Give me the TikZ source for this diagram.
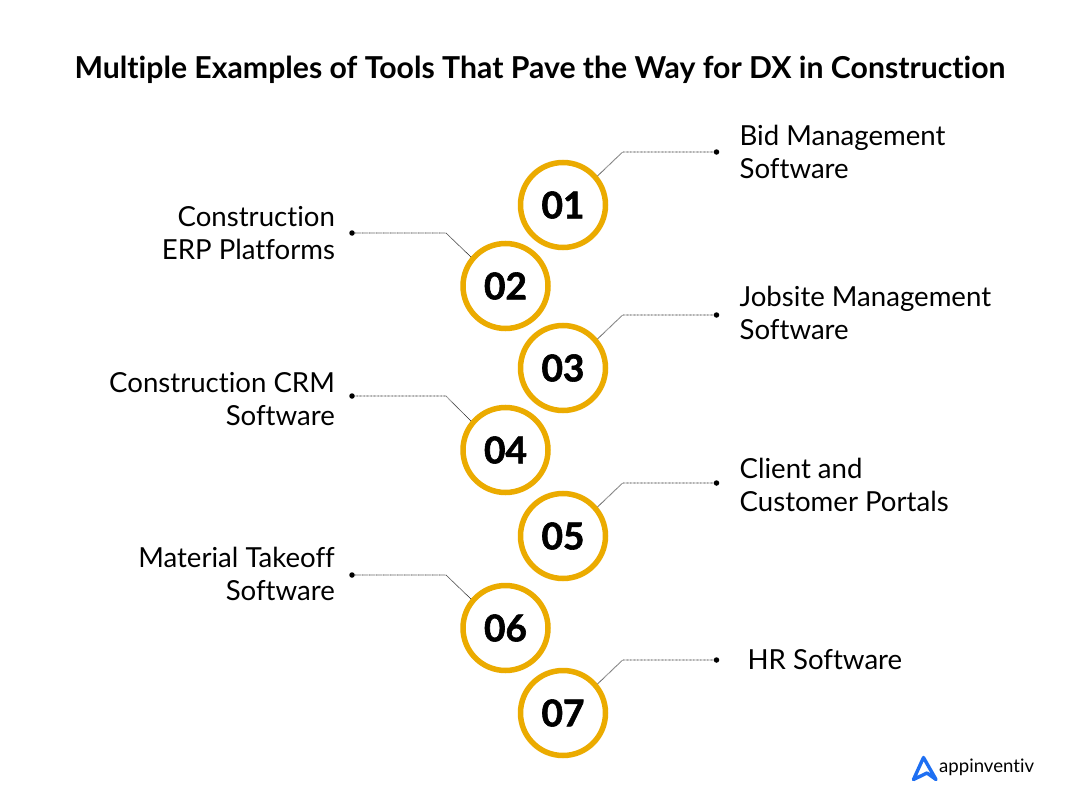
\documentclass[tikz,border=0pt]{standalone}
\usepackage{fontspec}
\setmainfont[Ligatures=CommonOff]{Lato}
\newfontfamily\numfont[FakeBold=1.6]{Lato Bold}
\usetikzlibrary{positioning}
\definecolor{ringgold}{HTML}{EBAB00}
\definecolor{logoblue}{HTML}{1E6FF2}
\tikzset{
  numring/.style={circle,draw=ringgold,line width=5.5pt,fill=white,minimum size=85pt,inner sep=0pt,font=\fontsize{37}{37}\numfont},
  tipdot/.style={circle,fill=black,minimum size=5.5pt,inner sep=0pt},
  leader/.style={black!85,line width=.7pt,dash pattern=on .8pt off .6pt},
  rtext/.style={align=left,inner sep=0pt,on grid=false,font=\fontsize{27.6}{33}\selectfont},
  ltext/.style={align=right,inner sep=0pt,on grid=false,font=\fontsize{27.6}{33}\selectfont},
}
\begin{document}
\begin{tikzpicture}[x=1pt,y=-1pt,on grid]
  \useasboundingbox[fill=white] (0,0) rectangle (1080,800);

  \node[font=\fontsize{30.2}{30}\selectfont\bfseries] (title) at (540,70) {Multiple Examples of Tools That Pave the Way for DX in Construction};

  % rings, top to bottom
  \node[numring] (c_1) at (563,205)                     {01};
  \node[numring] (c_2) [below left  = 81pt and 57.5pt of c_1] {02};
  \node[numring] (c_3) [below right = 82pt and 57.5pt of c_2] {03};
  \node[numring] (c_4) [below left  = 82pt and 57.5pt of c_3] {04};
  \node[numring] (c_5) [below right = 86pt and 57.5pt of c_4] {05};
  \node[numring] (c_6) [below left  = 92pt and 57.5pt of c_5] {06};
  \node[numring] (c_7) [below right = 85pt and 57.5pt of c_6] {07};

  % dots on the right
  \node[tipdot] (d_1) [above right = 53pt and 153.5pt of c_1] {};
  \node[tipdot] (d_3) [above right = 53pt and 153.5pt of c_3] {};
  \node[tipdot] (d_5) [above right = 53pt and 153.5pt of c_5] {};
  \node[tipdot] (d_7) [above right = 53pt and 153.5pt of c_7] {};
  % dots on the left
  \node[tipdot] (d_2) [above left = 53pt and 153.5pt of c_2] {};
  \node[tipdot] (d_4) [above left = 54pt and 153.5pt of c_4] {};
  \node[tipdot] (d_6) [above left = 53pt and 153.5pt of c_6] {};

  \foreach \i in {1,3,5,7} {
    \node[coordinate] (b_\i) [left = 94pt of d_\i] {};
    \draw[leader] (c_\i.40) -- (b_\i) -- (d_\i);
  }
  \foreach \i in {2,4,6} {
    \node[coordinate] (b_\i) [right = 94pt of d_\i] {};
    \draw[leader] (c_\i.140) -- (b_\i) -- (d_\i);
  }

  \node[rtext] (t_1) [right = 20pt of d_1] {Bid Management\\Software};
  \node[ltext] (t_2) [left  = 14pt of d_2] {Construction\\ERP Platforms};
  \node[rtext,yshift=2pt] (t_3) [right = 20pt of d_3] {Jobsite Management\\Software};
  \node[ltext,yshift=-3pt] (t_4) [left  = 14pt of d_4] {Construction CRM\\Software};
  \node[rtext,yshift=-2pt] (t_5) [right = 20pt of d_5] {Client and\\Customer Portals};
  \node[ltext,yshift=1pt] (t_6) [left  = 14pt of d_6] {Material Takeoff\\Software};
  \node[rtext] (t_7) [right = 28pt of d_7] {HR Software};

  % logo
  \draw[logoblue,line width=3.4pt,line join=round,line cap=round]
    (913.5,779.5) -- (923.5,757.5) -- (936,779.5) -- (927,773) -- cycle;
  \node[inner sep=0pt,anchor=west,font=\fontsize{18.6}{20}\selectfont] (brand) at (939,767) {appinventiv};
\end{tikzpicture}
\end{document}
